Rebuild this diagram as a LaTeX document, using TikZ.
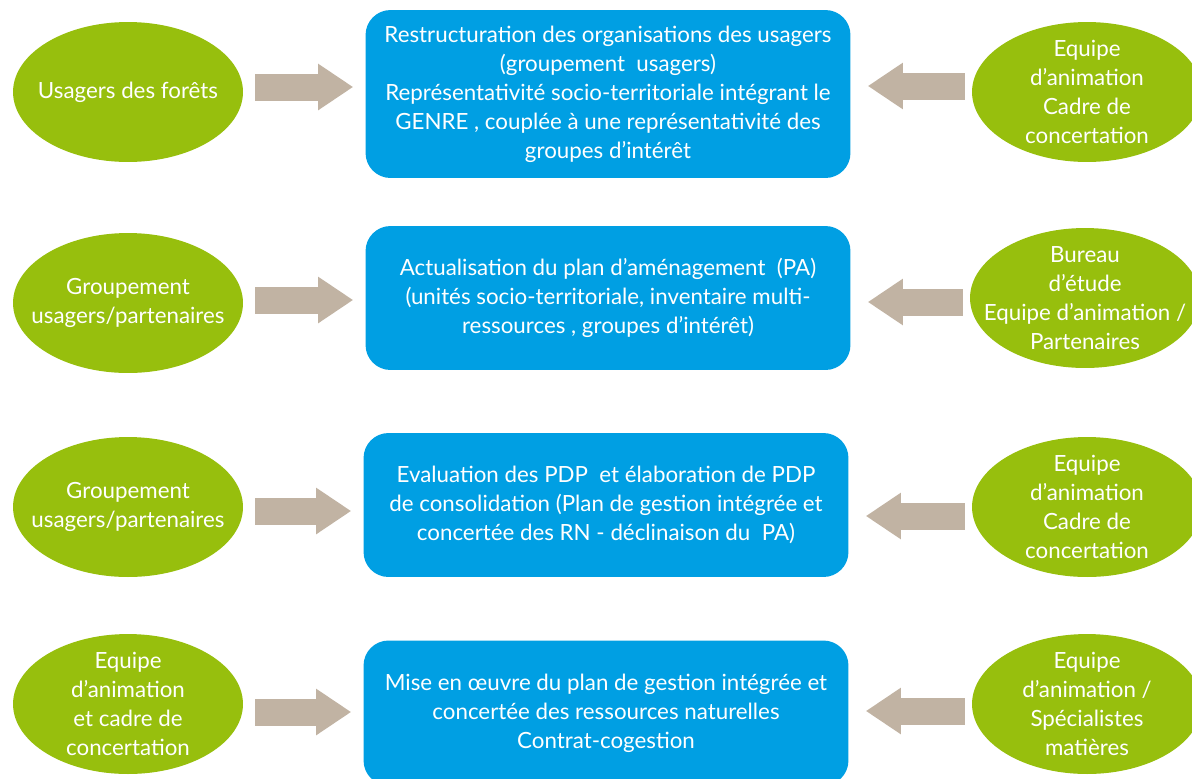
\documentclass[tikz,border=0pt]{standalone}
\usepackage{fontspec}
\setmainfont{Lato}
\usetikzlibrary{arrows.meta,shapes.geometric}
\definecolor{leaf}{HTML}{97BF0D}
\definecolor{sky}{HTML}{009FE3}
\definecolor{sand}{HTML}{C1B3A3}
\tikzset{oval/.style={ellipse, fill=leaf, text=white, minimum width=4.6cm, minimum height=2.8cm, inner sep=-0.7cm, align=center},
  card/.style={rectangle, rounded corners=0.5cm, fill=sky, text=white, minimum width=9.7cm, align=center},
  fat/.style={sand, line width=0.54cm, -{Triangle[length=0.7cm,width=0.88cm]}}}

\begin{document}
\begin{tikzpicture}[x=0.02cm,y=-0.02cm,font=\fontsize{12.7}{16.5}\selectfont]
  \useasboundingbox (0,0) rectangle (1192,778);
  % left column
  \node[oval] (u1) at (128,92) {Usagers des forêts};
  \node[oval] (u2) at (128,303) {Groupement\\usagers/partenaires};
  \node[oval] (u3) at (128,507) {Groupement\\usagers/partenaires};
  \node[oval] (u4) at (128,704) {Equipe\\d’animation\\et cadre de\\concertation};
  % middle column
  \node[card, minimum height=3.36cm] (b1) at (608,94) {Restructuration des organisations des usagers\\(groupement~ usagers)\\Représentativité socio-territoriale intégrant le\\GENRE , couplée à une représentativité des\\groupes d’intérêt};
  \node[card, minimum height=2.88cm] (b2) at (608,298) {Actualisation du plan d’aménagement~ (PA)\\(unités socio-territoriale, inventaire multi-\\ressources , groupes d’intérêt)};
  \node[card, minimum height=2.88cm] (b3) at (606,505) {Evaluation des PDP~ et élaboration de PDP\\de consolidation (Plan de gestion intégrée et\\concertée des RN - déclinaison du~ PA)};
  \node[card, minimum height=2.9cm] (b4) at (606,713) {Mise en œuvre du plan de gestion intégrée et\\concertée des ressources naturelles\\Contrat-cogestion};
  % right column
  \node[oval] (p1) at (1087,92) {Equipe\\d’animation\\Cadre de\\concertation};
  \node[oval] (p2) at (1085,298) {Bureau\\d’étude\\Equipe d’animation /\\Partenaires};
  \node[oval] (p3) at (1087,507) {Equipe\\d’animation\\Cadre de\\concertation};
  \node[oval] (p4) at (1087,704) {Equipe\\d’animation /\\Spécialistes\\matières};
  % block arrows
  \foreach \r/\dl/\dr in {1/-5/-6,2/-3/4,3/4/9,4/8/7}{
    \coordinate (sL\r) at ([shift={(12,\dl)}]u\r.east);
    \draw[fat, shorten >=0.24cm] (sL\r) -- (sL\r -| b\r.west);
    \coordinate (sR\r) at ([shift={(-7,\dr)}]p\r.west);
    \draw[fat, shorten >=0.34cm] (sR\r) -- (sR\r -| b\r.east);}
\end{tikzpicture}
\end{document}
